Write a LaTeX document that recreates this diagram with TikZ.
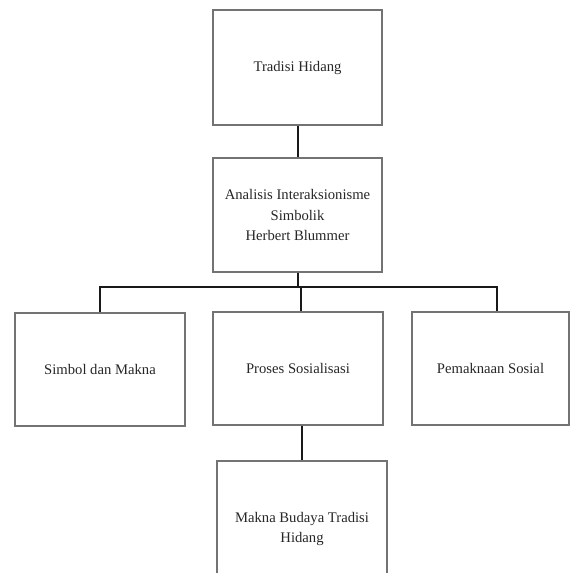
\documentclass[tikz,border=0pt]{standalone}
\usepackage{fontspec}
\setmainfont{Liberation Serif}
\begin{document}
\begin{tikzpicture}[x=0.75pt,y=-0.75pt,
  box/.style={draw=black!55,line width=1.1pt,rectangle,align=center,inner sep=0pt,
    font=\fontsize{11}{15.7}\selectfont,text=black!85},
  conn/.style={draw=black!90,line width=1.5pt}]
\useasboundingbox (0,0) rectangle (571,573);
\node[box,minimum width=169*0.75pt,minimum height=115*0.75pt] (trad) at (297.5,67.5) {Tradisi Hidang};
\node[box,minimum width=169*0.75pt,minimum height=114*0.75pt] (anal) at (297.5,215) {Analisis Interaksionisme\\Simbolik\\Herbert Blummer};
\node[box,minimum width=170*0.75pt,minimum height=113*0.75pt] (simb) at (100,369.5) {Simbol dan Makna};
\node[box,minimum width=170*0.75pt,minimum height=113*0.75pt] (pros) at (298,368.5) {Proses Sosialisasi};
\node[box,minimum width=157*0.75pt,minimum height=113*0.75pt] (pema) at (490.5,368.5) {Pemaknaan Sosial};
\node[box,minimum width=170*0.75pt,minimum height=136*0.75pt] (makn) at (302,529) {Makna Budaya Tradisi\\Hidang};
\coordinate (busL) at (100,287);
\coordinate (busR) at (497,287);
\draw[conn] (trad.south) -- (anal.north);
\draw[conn] (anal.south) -- (anal.south |- busL);
\draw[conn] (busL |- simb.north) -- (busL) -- (busR) -- (busR |- pema.north);
\draw[conn] (pros.north -| 301,0) -- (301,287);
\draw[conn] (pros.south -| 302,0) -- (makn.north -| 302,0);
\end{tikzpicture}
\end{document}
